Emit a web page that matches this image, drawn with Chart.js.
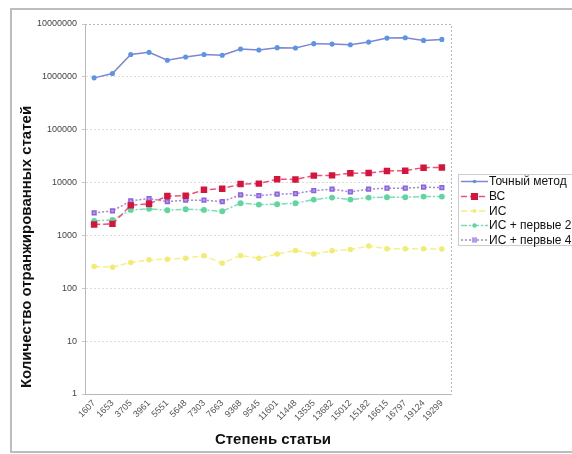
<!DOCTYPE html>
<html>
<head>
<meta charset="utf-8">
<script src="https://cdn.jsdelivr.net/npm/chart.js@4.4.1/dist/chart.umd.min.js"></script>
<style>
html,body{margin:0;padding:0;background:#fff;}
#wrap{position:relative;width:572px;height:454px;}
</style>
</head>
<body>
<div id="wrap"><canvas id="c" width="572" height="454"></canvas></div>
<script>
const categories = ["1607","1653","3705","3961","5551","5648","7303","7663","9368","9545","11601","11448","13535","13682","15012","15182","16615","16797","19124","19299"];
const exactMethod = [957000,1160000,2640000,2910000,2060000,2380000,2640000,2560000,3360000,3220000,3570000,3510000,4250000,4170000,4060000,4550000,5410000,5500000,4900000,5110000];
const bc = [1607,1653,3705,3961,5551,5648,7303,7663,9368,9545,11601,11448,13535,13682,15012,15182,16615,16797,19124,19299];
const is = [258,251,307,345,356,372,411,299,417,372,443,519,443,512,542,629,558,558,558,551];
const isFirst200 = [1880,1970,3040,3180,3000,3130,3040,2870,4070,3830,3900,4070,4760,5200,4760,5200,5290,5290,5430,5430];
const isFirst400 = [2670,2910,4500,4980,4365,4640,4640,4365,5850,5670,6030,6190,7050,7500,6670,7500,7830,7830,8180,8040];
const yTicks = [1,10,100,1000,10000,100000,1000000,10000000];
const seriesLabels = ["Точный метод","ВС","ИС","ИС + первые 200","ИС + первые 400"];
const xTitle = "Степень статьи";
const yTitle = "Количество отранжированных статей";

const FONT = "'Liberation Sans', Arial, Helvetica, sans-serif";

const framePlugin = {
  id: 'frame',
  beforeDraw(chart) {
    const ctx = chart.ctx;
    ctx.save();
    ctx.strokeStyle = '#bdbdbd';
    ctx.lineWidth = 2;
    ctx.strokeRect(11, 9, 620, 443);
    ctx.restore();
  },
  beforeDatasetsDraw(chart) {
    const {ctx, chartArea: a} = chart;
    ctx.save();
    ctx.strokeStyle = '#b8b8b8';
    ctx.lineWidth = 1;
    ctx.setLineDash([2, 2]);
    ctx.beginPath();
    ctx.moveTo(a.left, a.top + 0.5);
    ctx.lineTo(a.right + 0.5, a.top + 0.5);
    ctx.lineTo(a.right + 0.5, a.bottom);
    ctx.stroke();
    ctx.restore();
  },
  afterDraw(chart) {
    const ctx = chart.ctx;
    ctx.save();
    // axis titles
    ctx.fillStyle = '#111';
    ctx.font = 'bold 15px ' + FONT;
    ctx.textAlign = 'center';
    ctx.textBaseline = 'middle';
    ctx.fillText(xTitle, 273, 440);
    ctx.save();
    ctx.translate(27, 247);
    ctx.rotate(-Math.PI / 2);
    ctx.fillText(yTitle, 0, 0);
    ctx.restore();
    // legend box
    ctx.strokeStyle = '#cccccc';
    ctx.lineWidth = 1;
    ctx.strokeRect(458.5, 174.5, 140, 71);
    const ys = [181.5, 196.5, 211, 225.5, 240];
    chart.data.datasets.forEach((ds, i) => {
      const y = ys[i];
      ctx.save();
      ctx.strokeStyle = ds.borderColor;
      ctx.lineWidth = ds.borderWidth;
      ctx.setLineDash(ds.borderDash || []);
      ctx.beginPath();
      ctx.moveTo(461, y);
      ctx.lineTo(488, y);
      ctx.stroke();
      ctx.setLineDash([]);
      ctx.fillStyle = ds.pointBackgroundColor;
      const r = ds.pointRadius;
      if (ds.pointStyle === 'rect') {
        ctx.fillRect(474.5 - r, y - r, 2 * r, 2 * r);
      } else {
        ctx.beginPath();
        ctx.arc(474.5, y, r, 0, Math.PI * 2);
        ctx.fill();
      }
      ctx.restore();
      ctx.fillStyle = '#111';
      ctx.font = '12px ' + FONT;
      ctx.textBaseline = 'middle';
      ctx.textAlign = 'left';
      ctx.fillText(ds.label, 489, y + 0.5);
    });
    ctx.restore();
  }
};

new Chart(document.getElementById('c'), {
  type: 'line',
  data: {
    labels: categories,
    datasets: [
      {label: seriesLabels[0], data: exactMethod, borderColor: '#7f84d4', backgroundColor: '#5b95e6',
       pointBackgroundColor: '#5b95e6', pointBorderColor: '#5b95e6', borderWidth: 1.5, pointRadius: 1.8, pointStyle: 'circle', tension: 0},
      {label: seriesLabels[1], data: bc, borderColor: '#f0507a', backgroundColor: '#d8143c', borderDash: [6, 3],
       pointBackgroundColor: '#d8143c', pointBorderColor: '#d8143c', borderWidth: 1.5, pointRadius: 3.5, pointStyle: 'rect', tension: 0},
      {label: seriesLabels[2], data: is, borderColor: '#f4f08a', backgroundColor: '#f2ec70', borderDash: [6, 3],
       pointBackgroundColor: '#f2ec70', pointBorderColor: '#f2ec70', borderWidth: 1.5, pointRadius: 2, pointStyle: 'circle', tension: 0},
      {label: seriesLabels[3], data: isFirst200, borderColor: '#80dcb8', backgroundColor: '#5fd6a0', borderDash: [6, 2, 2, 2],
       pointBackgroundColor: '#5fd6a0', pointBorderColor: '#5fd6a0', borderWidth: 1.5, pointRadius: 2.2, pointStyle: 'circle', tension: 0},
      {label: seriesLabels[4], data: isFirst400, borderColor: '#a684e6', backgroundColor: '#8c62e0', borderDash: [2, 2],
       pointBackgroundColor: '#b49af0', pointBorderColor: '#8c62e0', borderWidth: 1.5, pointRadius: 2.6, pointStyle: 'rect', tension: 0}
    ]
  },
  options: {
    responsive: false,
    animation: false,
    devicePixelRatio: 1,
    layout: {padding: {left: 11, top: 24, right: 121, bottom: 0}},
    plugins: {legend: {display: false}, tooltip: {enabled: false}},
    scales: {
      x: {
        type: 'category',
        offset: true,
        afterFit(s) { s.height = 60; },
        grid: {display: false, drawTicks: false},
        border: {display: true, color: '#b8b8b8', dash: [2, 2]},
        ticks: {font: {size: 9, family: FONT}, color: '#555', maxRotation: 45, minRotation: 45, autoSkip: false, padding: 4},
        title: {display: false}
      },
      y: {
        type: 'logarithmic',
        min: 1,
        max: 10000000,
        afterFit(s) { s.width = 74; },
        afterBuildTicks(s) { s.ticks = yTicks.map(v => ({value: v})); },
        grid: {
          color: ctx => (ctx.tick && (ctx.tick.value === 1 || ctx.tick.value === 10000000)) ? 'rgba(0,0,0,0)' : '#dcdcdc',
          lineWidth: 1,
          drawTicks: true,
          tickLength: 3,
          tickColor: '#c8c8c8'
        },
        border: {display: true, color: '#b8b8b8', dash: [2, 2]},
        ticks: {font: {size: 9, family: FONT}, color: '#444', padding: 5, callback: v => String(v)},
        title: {display: false}
      }
    }
  },
  plugins: [framePlugin]
});
</script>
</body>
</html>
